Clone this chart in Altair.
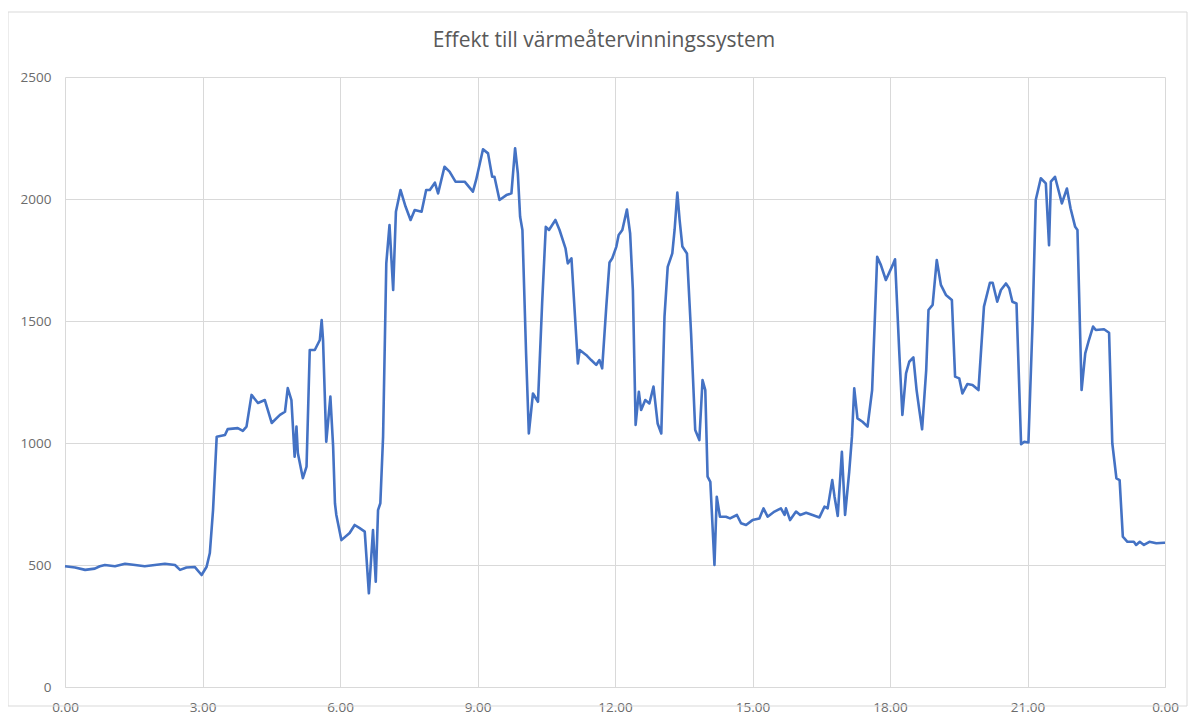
import altair as alt
import pandas as pd

title_text = "Effekt till värmeåtervinningssystem"

hours = [
    0.00, 0.22, 0.44, 0.65, 0.76, 0.87, 1.09, 1.31, 1.53, 1.74, 1.96, 2.18, 2.40,
    2.51, 2.65, 2.83, 2.98, 3.09, 3.16, 3.23, 3.31, 3.49, 3.55, 3.77, 3.88, 3.96,
    4.07, 4.21, 4.36, 4.51, 4.69, 4.80, 4.86, 4.94, 5.01, 5.05, 5.08, 5.19, 5.27,
    5.34, 5.45, 5.56, 5.60, 5.63, 5.70, 5.79, 5.85, 5.89, 5.92, 6.03, 6.21, 6.32,
    6.43, 6.54, 6.63, 6.72, 6.78, 6.83, 6.88, 6.94, 7.01, 7.08, 7.16, 7.22, 7.32,
    7.43, 7.54, 7.63, 7.78, 7.88, 7.96, 8.07, 8.14, 8.28, 8.39, 8.52, 8.72, 8.90,
    8.97, 9.12, 9.23, 9.32, 9.37, 9.48, 9.63, 9.74, 9.82, 9.88, 9.93, 9.98, 10.06,
    10.12, 10.21, 10.32, 10.41, 10.49, 10.56, 10.70, 10.79, 10.92, 10.97, 11.05,
    11.19, 11.23, 11.37, 11.48, 11.59, 11.66, 11.72, 11.81, 11.88, 11.94, 12.03,
    12.08, 12.16, 12.26, 12.33, 12.39, 12.45, 12.52, 12.57, 12.66, 12.75, 12.84,
    12.93, 13.01, 13.08, 13.15, 13.25, 13.30, 13.36, 13.41, 13.47, 13.57, 13.66,
    13.75, 13.84, 13.91, 13.97, 14.02, 14.08, 14.17, 14.22, 14.29, 14.42, 14.51,
    14.66, 14.75, 14.86, 15.00, 15.15, 15.24, 15.33, 15.48, 15.62, 15.70, 15.73,
    15.82, 15.95, 16.04, 16.17, 16.31, 16.46, 16.57, 16.64, 16.74, 16.79, 16.86,
    16.95, 17.02, 17.11, 17.17, 17.22, 17.29, 17.40, 17.51, 17.61, 17.66, 17.72,
    17.80, 17.91, 18.06, 18.11, 18.20, 18.27, 18.35, 18.42, 18.51, 18.58, 18.64,
    18.70, 18.79, 18.84, 18.93, 19.02, 19.11, 19.22, 19.35, 19.42, 19.51, 19.58,
    19.69, 19.80, 19.93, 20.05, 20.18, 20.24, 20.34, 20.42, 20.53, 20.60, 20.67,
    20.76, 20.86, 20.93, 21.02, 21.11, 21.18, 21.29, 21.40, 21.47, 21.51, 21.60,
    21.75, 21.86, 21.94, 22.04, 22.09, 22.18, 22.26, 22.34, 22.43, 22.49, 22.67,
    22.78, 22.85, 22.94, 23.01, 23.08, 23.18, 23.32, 23.37, 23.45, 23.54, 23.66,
    23.81, 23.98, 24.00,
]

effekt = [
    495, 490, 480, 485, 495, 500, 495, 505, 500, 495, 500, 505, 500,
    480, 490, 492, 459, 493, 549, 725, 1026, 1033, 1057, 1061, 1050, 1067,
    1197, 1164, 1176, 1082, 1115, 1128, 1225, 1176, 944, 1067, 959, 856, 903,
    1381, 1381, 1422, 1504, 1422, 1005, 1190, 985, 753, 705, 602, 631, 664,
    651, 637, 384, 643, 432, 725, 753, 1026, 1736, 1893, 1627, 1948, 2037,
    1969, 1914, 1955, 1948, 2037, 2037, 2067, 2023, 2132, 2112, 2071, 2071, 2030,
    2078, 2204, 2187, 2091, 2091, 1996, 2016, 2023, 2208, 2105, 1927, 1873, 1367,
    1039, 1203, 1169, 1572, 1886, 1873, 1914, 1873, 1798, 1736, 1757,
    1326, 1381, 1361, 1340, 1320, 1340, 1306, 1559, 1740, 1757, 1805,
    1852, 1873, 1957, 1859, 1627, 1074, 1210, 1135, 1176, 1162, 1231,
    1080, 1039, 1518, 1722, 1777, 1873, 2026, 1914, 1805, 1777, 1450,
    1053, 1012, 1258, 1217, 862, 841, 500, 780, 698, 698, 691,
    705, 671, 664, 684, 691, 732, 698, 719, 732, 705, 732,
    684, 719, 705, 714, 705, 695, 739, 732, 848, 780, 701,
    964, 705, 882, 1026, 1224, 1101, 1087, 1067, 1217, 1463, 1763,
    1730, 1668, 1730, 1753, 1381, 1115, 1285, 1333, 1351, 1217, 1135,
    1056, 1299, 1545, 1566, 1750, 1648, 1607, 1586, 1272, 1265, 1203,
    1242, 1238, 1217, 1559, 1657, 1657, 1579, 1627, 1654, 1634, 1579,
    1572, 995, 1005, 1002, 1490, 1996, 2085, 2064, 1811, 2071, 2091,
    1982, 2043, 1961, 1886, 1873, 1217, 1367, 1422, 1477, 1463, 1466,
    1452, 999, 855, 848, 616, 595, 595, 582, 595, 582, 595,
    589, 591, 591,
]

x_ticks = [0, 3, 6, 9, 12, 15, 18, 21, 24]
y_ticks = [0, 500, 1000, 1500, 2000, 2500]

df = pd.DataFrame({"timme": hours, "effekt": effekt})

FONT = "Open Sans"
LABEL_COLOR = "#6b6b6b"
GRID = "#d9d9d9"

line = alt.Chart(df).mark_line(color="#4472C4", strokeWidth=2.6, strokeJoin="round").encode(
    x=alt.X(
        "timme:Q",
        scale=alt.Scale(domain=[0, 24], nice=False, zero=False),
        axis=alt.Axis(
            values=x_ticks,
            title=None,
            grid=True,
            gridColor=GRID,
            domain=True,
            domainColor=GRID,
            ticks=False,
            labelFlush=False,
            labelPadding=13,
            labelFontSize=13.5,
            labelFont=FONT,
            labelColor=LABEL_COLOR,
            labelExpr="datum.value == 24 ? '0.00' : format(datum.value, '.2f')",
        ),
    ),
    y=alt.Y(
        "effekt:Q",
        scale=alt.Scale(domain=[0, 2500], nice=False),
        axis=alt.Axis(
            values=y_ticks,
            title=None,
            grid=True,
            gridColor=GRID,
            domain=False,
            ticks=False,
            labelFlush=False,
            labelPadding=14,
            labelFontSize=13.5,
            labelFont=FONT,
            labelColor=LABEL_COLOR,
            format="d",
        ),
    ),
)

frame = alt.Chart(alt.Data(values=[{"a": 1}])).mark_rect(
    fillOpacity=0, stroke=GRID, strokeWidth=1, clip=False
).encode(
    x=alt.value(-57), x2=alt.value(1122), y=alt.value(-65), y2=alt.value(629)
)

chart = alt.layer(frame, line).properties(
    width=1100,
    height=610,
    padding={"left": 57, "top": 69, "right": 23, "bottom": 29},
    autosize=alt.AutoSizeParams(type="none"),
    title=alt.TitleParams(
        text=title_text,
        font=FONT,
        fontSize=21,
        fontWeight="normal",
        color="#595959",
        anchor="middle",
        frame="group",
        baseline="alphabetic",
        dx=-11,
        offset=-56,
    ),
).configure_view(stroke=None)

chart.save("out.html", embed_options={"renderer": "svg", "actions": False})
